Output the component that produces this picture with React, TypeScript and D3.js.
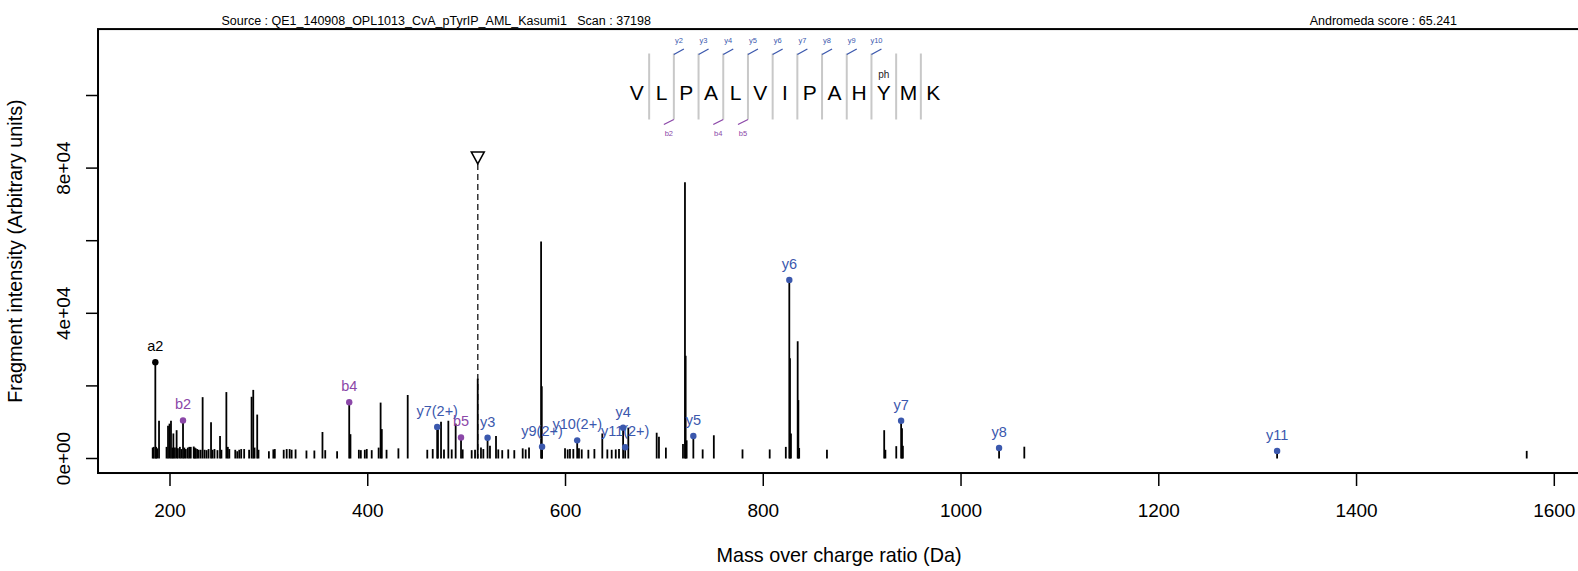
import React from "react";
import * as d3 from "d3";

// ---------- data ----------
const residues = ["V", "L", "P", "A", "L", "V", "I", "P", "A", "H", "Y", "M", "K"];
const modResidueIndex = 10;
const modLabel = "ph";
const yMarkNumbers = [2, 3, 4, 5, 6, 7, 8, 9, 10];
const bMarkNumbers = [2, 4, 5];

const ionLabels = ["a2", "b2", "b4", "b5", "y3", "y4", "y5", "y6", "y7", "y8", "y11", "y7(2+)", "y9(2+)", "y10(2+)", "y11(2+)"];
const ionTypes = ["a", "b", "b", "b", "y", "y", "y", "y", "y", "y", "y", "y", "y", "y", "y"];
const ionMz = [185.16, 213.16, 381.25, 494.33, 521.18, 658.24, 729.28, 826.33, 939.42, 1038.48, 1319.66, 470.21, 576.29, 611.81, 660.33];
const ionIntensity = [26500, 10500, 15500, 5800, 5700, 8500, 6200, 49200, 10400, 2900, 2100, 8700, 3250, 5000, 3100];

const peakMz = [
  182.5, 183.5, 186.0, 187.0, 188.9, 196.5, 198.0, 199.5, 201.0, 202.5, 203.4, 205.0, 206.7, 208.0, 210.0, 211.5,
  214.5, 216.0, 218.0, 219.5, 221.0, 224.0, 225.0, 226.0, 227.5, 229.0, 231.0, 233.0, 235.0, 237.0, 239.0, 241.5,
  243.0, 245.0, 248.0, 250.6, 252.0, 257.0, 258.5, 260.0, 266.0, 268.0, 270.0, 272.0, 275.0, 280.0, 282.5, 284.2,
  285.5, 288.2, 289.5, 300.0, 304.5, 306.0, 315.0, 318.0, 321.0, 323.0, 327.0, 338.0, 346.0, 354.2, 357.0, 369.0,
  382.5, 391.0, 393.0, 397.0, 399.0, 404.0, 411.0, 413.0, 414.2, 419.0, 431.0, 440.4, 460.2, 465.7, 471.0, 474.1,
  477.1, 481.5, 484.9, 488.9, 496.0, 505.1, 508.5, 511.2, 514.5, 516.9, 523.6, 529.7, 532.0, 536.0, 542.1, 548.2,
  556.7, 559.7, 563.1, 575.3, 576.0, 599.5, 602.2, 604.5, 607.9, 613.6, 616.4, 623.1, 629.2, 637.2, 642.3, 646.7,
  650.8, 654.1, 663.5, 692.2, 694.5, 701.5, 718.8, 720.8, 721.5, 722.5, 738.7, 750.0, 779.0, 806.5, 822.8, 827.0,
  828.0, 834.8, 835.5, 836.3, 864.4, 922.3, 923.5, 934.5, 940.3, 941.2, 1064.0, 1572.1
];
const peakIntensity = [
  3000, 3200, 3200, 2800, 10400, 3200, 9000, 9600, 10400, 3000, 6900, 3000, 7800, 2800, 3200, 2600,
  3000, 2600, 3000, 3200, 3200, 3300, 3000, 2800, 2600, 2400, 2400, 16900, 2400, 2300, 2600, 10000,
  2400, 2600, 2300, 6200, 2400, 18300, 3200, 2600, 2400, 2000, 2400, 2600, 2600, 2400, 17000, 18900,
  3000, 12100, 2400, 2000, 2500, 2600, 2400, 2600, 2600, 2400, 2500, 2200, 2200, 7300, 2300, 2000,
  6700, 2400, 2300, 2400, 2600, 2300, 3000, 15400, 8100, 2400, 2800, 17500, 2400, 2600, 8600, 10100,
  2500, 10400, 2500, 9600, 2500, 2300, 2400, 22000, 3000, 2600, 3500, 6200, 2500, 2300, 2500, 2300,
  2800, 2500, 3000, 59800, 19900, 2800, 2500, 2600, 2600, 2800, 2500, 2400, 2600, 6900, 2500, 2400,
  2500, 2600, 8500, 7100, 6000, 3000, 4000, 76100, 28300, 5000, 2500, 6400, 2500, 2500, 3200, 27600,
  6900, 32300, 16100, 2900, 2400, 7800, 2400, 3400, 8300, 3500, 3250, 2100
];

const precursorMz = 511.27;
const precursorMarkLevel = 82800;

const xTicks = [200, 400, 600, 800, 1000, 1200, 1400, 1600];
const yTicks = [0, 20000, 40000, 60000, 80000, 100000];
const yTickLabels = ["0e+00", "", "4e+04", "", "8e+04", ""];

const sourceText = "Source : QE1_140908_OPL1013_CvA_pTyrIP_AML_Kasumi1\u00a0\u00a0\u00a0Scan : 37198";
const scoreText = "Andromeda score : 65.241";
const xTitle = "Mass over charge ratio (Da)";
const yTitle = "Fragment intensity (Arbitrary units)";

// ---------- styling ----------
const W = 1578;
const H = 571;
const FONT = "'Liberation Sans', Arial, Helvetica, sans-serif";
const BLUE = "#3b58ad";
const PURPLE = "#8b47a8";
const ionColor = (t: string) => (t === "y" ? BLUE : t === "b" ? PURPLE : "#000");

export default function App() {
  const x = d3.scaleLinear().domain([200, 1600]).range([170, 1554.3]);
  const y = d3.scaleLinear().domain([0, 100000]).range([458.5, 95.5]);
  const left = x(127.2);
  const right = x(1626);
  const top = y(118300);
  const bottom = y(-4000);

  const peaks = peakMz.map((m, i) => ({ m, v: peakIntensity[i] }));
  const ions = ionMz.map((m, i) => ({ m, v: ionIntensity[i], label: ionLabels[i], t: ionTypes[i] }));

  // peptide layout
  const letterX0 = 636.8;
  const step = 24.7;
  const sepX = (k: number) => letterX0 + (k - 1) * step + step / 2; // separator after residue k (1-based)
  const sepTop = 53.5;
  const sepBot = 119.5;
  const letterBase = 100;

  const px = x(precursorMz);
  const py = y(precursorMarkLevel);

  return (
    <svg width={W} height={H} style={{ position: "absolute", left: 0, top: 0, display: "block", background: "#fff" }} fontFamily={FONT}>
      <rect x={0} y={0} width={W} height={H} fill="#fff" />
      {/* header */}
      <text x={221.5} y={25} fontSize={12.5} fill="#000">{sourceText}</text>
      <text x={1457} y={25} fontSize={12.5} fill="#000" textAnchor="end">{scoreText}</text>

      {/* peptide sequence */}
      {d3.range(1, residues.length).map((k) => (
        <line key={"sep" + k} x1={sepX(k)} x2={sepX(k)} y1={sepTop} y2={sepBot} stroke="#c8c8c8" strokeWidth={2} />
      ))}
      {residues.map((r, i) => (
        <text key={"res" + i} x={letterX0 + i * step} y={letterBase} fontSize={21} textAnchor="middle" fill="#000">{r}</text>
      ))}
      <text x={letterX0 + modResidueIndex * step} y={78} fontSize={10} textAnchor="middle" fill="#222">{modLabel}</text>
      {yMarkNumbers.map((n) => (
        <g key={"ym" + n}>
          <line x1={sepX(n)} y1={54.5} x2={sepX(n) + 10} y2={49} stroke={BLUE} strokeWidth={1.3} />
          <text x={sepX(n) + 5} y={42.5} fontSize={7.5} textAnchor="middle" fill={BLUE}>{"y" + n}</text>
        </g>
      ))}
      {bMarkNumbers.map((n) => (
        <g key={"bm" + n}>
          <line x1={sepX(n)} y1={119.5} x2={sepX(n) - 10} y2={124.5} stroke={PURPLE} strokeWidth={1.3} />
          <text x={sepX(n) - 5} y={135.5} fontSize={7.5} textAnchor="middle" fill={PURPLE}>{"b" + n}</text>
        </g>
      ))}

      {/* precursor */}
      <line x1={px} x2={px} y1={py + 6} y2={y(0)} stroke="#333" strokeWidth={1.5} strokeDasharray="6,4" />
      <path d={`M${px - 6.5},${py - 6} L${px + 6.5},${py - 6} L${px},${py + 6} Z`} fill="#fff" stroke="#000" strokeWidth={1.5} />

      {/* peaks */}
      {peaks.map((p, i) => (
        <line key={"pk" + i} x1={x(p.m)} x2={x(p.m)} y1={y(0)} y2={y(p.v)} stroke="#000" strokeWidth={1.8} />
      ))}
      {ions.map((p, i) => (
        <line key={"il" + i} x1={x(p.m)} x2={x(p.m)} y1={y(0)} y2={y(p.v)} stroke="#000" strokeWidth={1.8} />
      ))}
      {ions.map((p, i) => (
        <g key={"id" + i}>
          <circle cx={x(p.m)} cy={y(p.v)} r={3.2} fill={ionColor(p.t)} />
          <text x={x(p.m)} y={y(p.v) - 11} fontSize={14.5} textAnchor="middle" fill={ionColor(p.t)}>{p.label}</text>
        </g>
      ))}

      {/* frame */}
      <rect x={left} y={top} width={right - left} height={bottom - top} fill="none" stroke="#000" strokeWidth={2} />

      {/* x axis */}
      {xTicks.map((t) => (
        <g key={"xt" + t}>
          <line x1={x(t)} x2={x(t)} y1={bottom} y2={bottom + 13} stroke="#000" strokeWidth={1.5} />
          <text x={x(t)} y={bottom + 44} fontSize={19} textAnchor="middle" fill="#000">{t}</text>
        </g>
      ))}
      <text x={(left + right) / 2} y={562} fontSize={19.8} textAnchor="middle" fill="#000">{xTitle}</text>

      {/* y axis */}
      {yTicks.map((t, i) => (
        <g key={"yt" + t}>
          <line x1={left - 12} x2={left} y1={y(t)} y2={y(t)} stroke="#000" strokeWidth={1.5} />
          {yTickLabels[i] && (
            <text transform={`translate(69.5,${y(t)}) rotate(-90)`} fontSize={19} textAnchor="middle" fill="#000">{yTickLabels[i]}</text>
          )}
        </g>
      ))}
      <text transform={`translate(21.5,${(top + bottom) / 2}) rotate(-90)`} fontSize={19.8} textAnchor="middle" fill="#000">{yTitle}</text>
    </svg>
  );
}
